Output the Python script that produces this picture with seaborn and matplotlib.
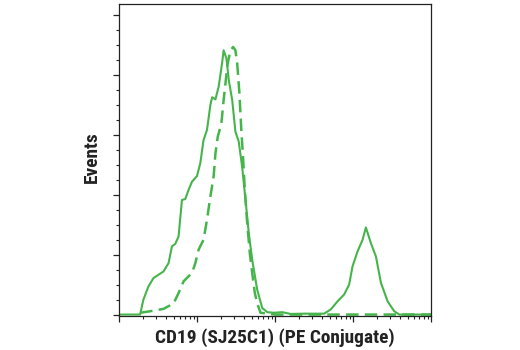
import numpy as np
import pandas as pd
import matplotlib
matplotlib.use("Agg")
import matplotlib.pyplot as plt
from matplotlib import font_manager as fm
from matplotlib.ticker import LogLocator, MultipleLocator, NullFormatter
import seaborn as sns

# Solid series (CD19 stained)
solid_x = [10, 18.6, 20.5, 23.8, 27.6, 37.1, 43.1, 47.6, 52.5, 57.9, 64.0, 70.6, 77.9, 86.1,
           99.8, 110, 121, 134, 148, 156, 172, 189, 209, 219, 238, 255, 282, 310, 342, 378,
           418, 460, 509, 590, 684, 794, 966, 1238, 1582, 2345, 4246, 5176, 6310, 7674,
           8896, 9840, 11410, 13240, 14590, 16910, 19630, 22750, 27740, 33730, 39100, 100000]
solid_y = [0, 0, 5, 9.4, 12.2, 14.4, 17.2, 22.8, 23.6, 26.1, 38.3, 38.6, 41.7, 44.4,
           46.3, 50.6, 58.3, 61.7, 70, 72.6, 71.9, 76.1, 83.9, 88.3, 85.6, 78.3, 71.7, 61.1,
           57.8, 49.4, 38.3, 27.2, 18.3, 8.3, 2.2, 0.8, 0.6, 0.8, 0.2, 0.3, 0.3, 1.7, 4.4,
           6.7, 10, 16.1, 21.1, 25, 29.1, 23.9, 19.4, 10.6, 4.4, 1.1, 0, 0]

# Dashed series (isotype control)
dashed_x = [18.6, 25.0, 37.1, 49.9, 57.9, 67.1, 86.1, 95.0, 104.7, 121, 134, 148, 163, 172,
            184, 205, 219, 231, 247, 268, 290, 310, 327, 349, 367, 390, 409, 439, 474, 509,
            550, 590, 651, 1000, 100000]
dashed_y = [0.6, 1.1, 1.9, 3.7, 7.2, 11.1, 13.9, 17.2, 21.7, 25, 31.7, 39.4, 46.1, 53.9,
            59.4, 63.9, 71.7, 77.2, 83.9, 88.3, 89.4, 88.3, 83.9, 73.9, 62.8, 51.7, 41.7,
            30.6, 20.6, 13.9, 7.2, 3.7, 0.6, 0, 0]

x_label = "CD19 (SJ25C1) (PE Conjugate)"
y_label = "Events"

sns.set_style("ticks")
plt.rcParams['font.family'] = ['Liberation Sans', 'DejaVu Sans']


def pick_condensed_bold():
    prefs = ["liberationsansnarrow-bold", "robotocondensed-bold", "opensanscondensed-bold",
             "dejavusanscondensed-bold", "notosanscondensed-bold", "opensans_condensed-bold"]
    files = [f.fname for f in fm.fontManager.ttflist]
    for p in prefs:
        for fn in files:
            base = fn.lower().replace(" ", "").replace("_", "").split("/")[-1]
            if base.startswith(p.replace("_", "")):
                return fm.FontProperties(fname=fn)
    for f in fm.fontManager.ttflist:
        low = f.fname.lower()
        if ("condensed" in low or "narrow" in low) and "bold" in low and "italic" not in low \
                and "oblique" not in low and "semi" not in low and "extra" not in low:
            return fm.FontProperties(fname=f.fname)
    return fm.FontProperties(family=["Liberation Sans", "DejaVu Sans"], weight="bold")


label_fp = pick_condensed_bold()

green = "#45b54b"

fig = plt.figure(figsize=(5.2, 3.5), dpi=100)
ax = fig.add_axes([0.229, 0.097, 0.600, 0.891])

df_s = pd.DataFrame({"x": solid_x, "y": solid_y})
df_d = pd.DataFrame({"x": dashed_x, "y": dashed_y})
sns.lineplot(data=df_s, x="x", y="y", ax=ax, color=green, linewidth=1.5, sort=False,
             estimator=None)
sns.lineplot(data=df_d, x="x", y="y", ax=ax, color=green, linewidth=1.8, sort=False,
             estimator=None)
ax.lines[-1].set_dashes((5, 2.5))

ax.set_xscale("log")
ax.set_xlim(10, 100000)
ax.set_ylim(-0.5, 103.7)
ax.xaxis.set_major_locator(LogLocator(base=10, numticks=10))
ax.xaxis.set_minor_locator(LogLocator(base=10, subs=np.arange(2, 10), numticks=20))
ax.xaxis.set_major_formatter(NullFormatter())
ax.xaxis.set_minor_formatter(NullFormatter())
ax.yaxis.set_major_locator(MultipleLocator(20))
ax.yaxis.set_minor_locator(MultipleLocator(5))
ax.yaxis.set_major_formatter(NullFormatter())

for s in ax.spines.values():
    s.set_visible(True)
    s.set_linewidth(0.9)
    s.set_color("#222222")
ax.tick_params(axis="both", which="major", direction="out", length=4.2, width=0.9, color="#222222")
ax.tick_params(axis="both", which="minor", direction="out", length=2.5, width=0.8, color="#222222")

ax.set_xlabel("")
ax.set_ylabel("")
xl = fig.text(0.529, 1 - 337.5 / 350, x_label, ha="center", va="center",
              fontproperties=label_fp, color="#222222")
yl = fig.text(92 / 520, 1 - 157 / 350, y_label, ha="center", va="center", rotation=90,
              fontproperties=label_fp, color="#222222")

# size the labels so the x label spans about 241 px, like the reference
xl.set_fontsize(14)
yl.set_fontsize(14)
r = fig.canvas.get_renderer()
w = xl.get_window_extent(r).width
size = min(14 * 241.0 / w, 15.5)
xl.set_fontsize(size)
yl.set_fontsize(size)

fig.savefig("out.png", dpi=100)
